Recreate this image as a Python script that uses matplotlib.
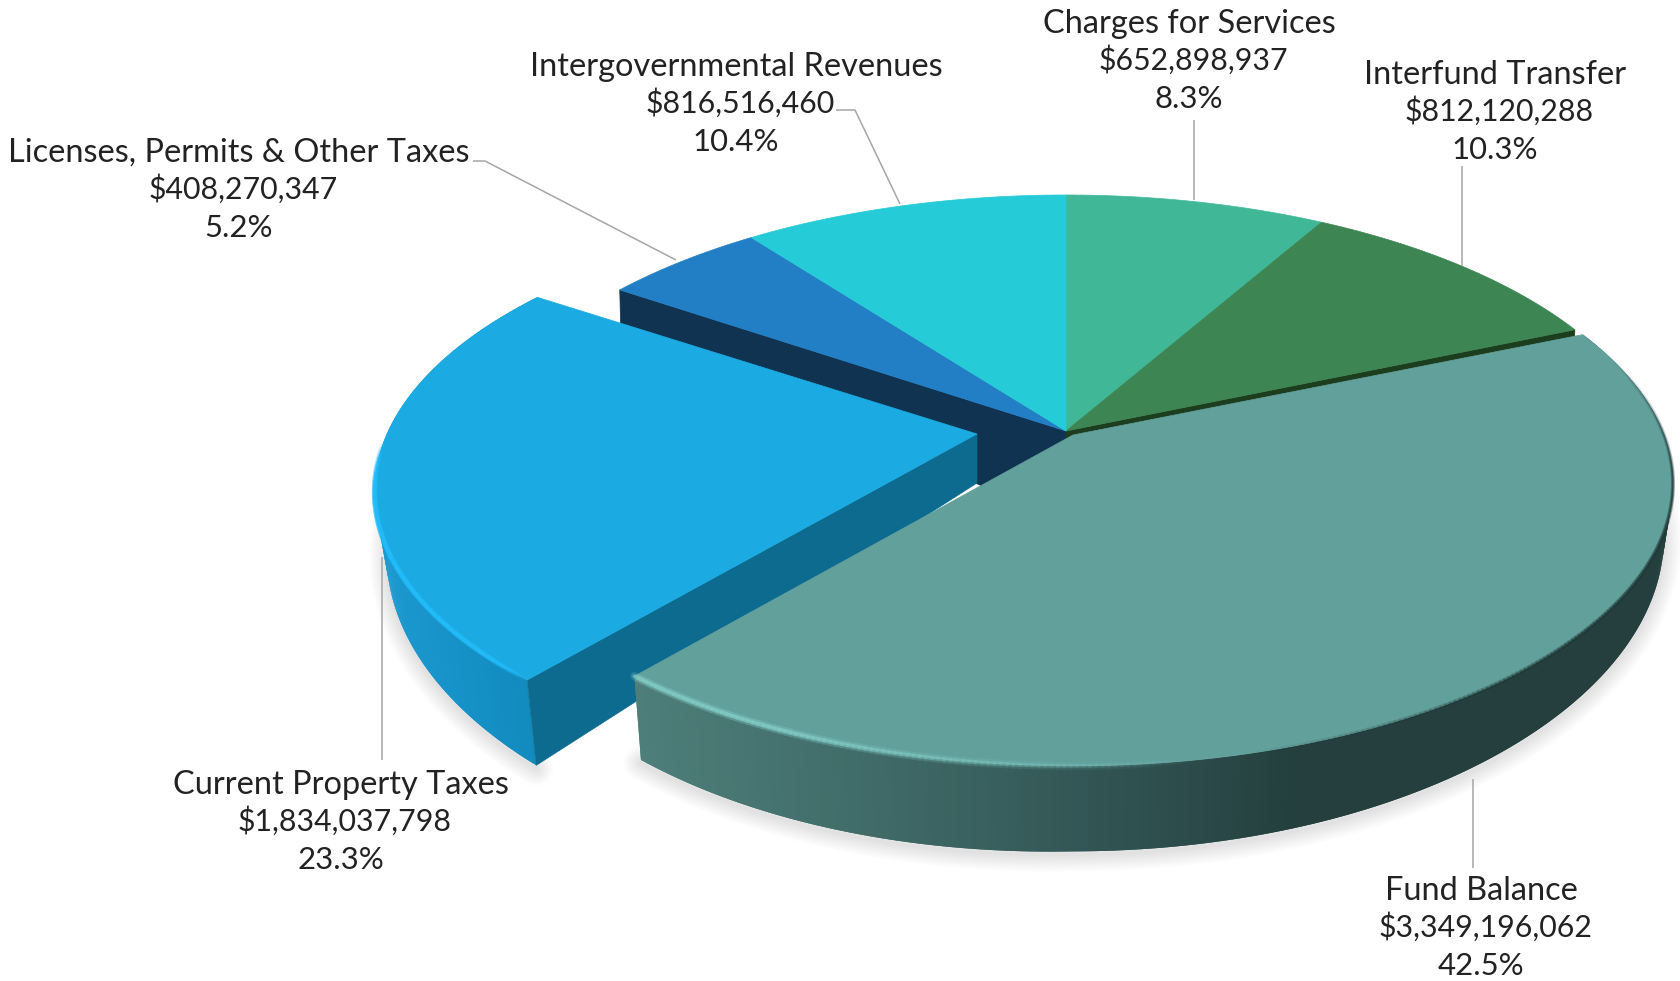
import numpy as np
import matplotlib
matplotlib.use("Agg")
import matplotlib.pyplot as plt
from matplotlib.collections import PolyCollection, LineCollection
from matplotlib.colors import to_rgb

# ---- data (clockwise from 12 o'clock) ----
categories = ["Charges for Services", "Interfund Transfer", "Fund Balance",
              "Current Property Taxes", "Licenses, Permits & Other Taxes",
              "Intergovernmental Revenues"]
values = [652898937, 812120288, 3349196062, 1834037798, 408270347, 816516460]
top_colors = ["#40B898", "#3D8552", "#62A09C", "#1BABE2", "#237FC5", "#25CBD6"]

# ---- layout / style ----
label_pos = [(1189, 59), (1495, 110), (1481, 926), (341, 820), (239, 188), (736, 102)]
leaders = [[(1194, 120), (1194, 200)],
           [(1462, 166), (1462, 266)],
           [(1473, 779), (1473, 868)],
           [(382, 557), (382, 760)],
           [(473, 161), (485, 161), (676, 260)],
           [(836, 110), (855, 110), (900, 204)]]
BACK = dict(apex=(1066.0, 431.0), R=590.0, S=276.6, k=0.172, tilt=0.0, inset=0.998)
FUND = dict(apex=(1073.0, 435.0), R=591.0, S=274.0, k=0.172, tilt=15.0, inset=0.985)
PROP = dict(apex=(977.0, 434.0), R=590.0, S=272.0, k=0.202, tilt=8.0, inset=0.98)
DEPTH = 48.5

fund_stops_x = [640, 800, 1000, 1180, 1300, 1700]
fund_stops_c = ["#4E7E79", "#44716D", "#385F5D", "#2C4C4B", "#243F3D", "#243F3D"]
prop_stops_x = [370, 450, 545]
prop_stops_c = ["#1B9AD0", "#1792C8", "#1089BB"]

fig = plt.figure(figsize=(16.8, 9.81), dpi=100)
ax = fig.add_axes([0, 0, 1, 1])
ax.set_xlim(0, 1680)
ax.set_ylim(981, 0)
ax.axis("off")

total = sum(values)
edges = np.concatenate([[0], np.cumsum(values) / total])


def top(f, g):
    f = np.asarray(f, float)
    th = 2 * np.pi * f
    u, v = np.sin(th), -np.cos(th)
    w = 1 - g["k"] * v
    return g["apex"][0] + g["R"] * u / w, g["apex"][1] + g["S"] * v / w, w


def bottom(f, g):
    x, y, w = top(f, g)
    u = np.sin(2 * np.pi * np.asarray(f, float))
    d = DEPTH / w ** 3 + g["tilt"] * np.clip(-u, 0, 1)
    return g["apex"][0] + (x - g["apex"][0]) * g["inset"], y + d


def face(i, g, z):
    f = np.linspace(edges[i], edges[i + 1], 200)
    x, y, _ = top(f, g)
    ax.fill(np.r_[g["apex"][0], x], np.r_[g["apex"][1], y], fc=top_colors[i],
            ec=top_colors[i], lw=0.5, zorder=z)


def grad(xs, sx, sc):
    rgb = np.array([to_rgb(c) for c in sc])
    return np.c_[[np.interp(xs, sx, rgb[:, j]) for j in range(3)]].T


def outer_wall(i, g, sx, sc, z):
    f = np.linspace(edges[i], edges[i + 1], 260)
    xt, yt, _ = top(f, g)
    xb, yb = bottom(f, g)
    n = len(f) - 1
    quads = [[(xt[j], yt[j]), (xt[min(j + 2, n)], yt[min(j + 2, n)]),
              (xb[min(j + 2, n)], yb[min(j + 2, n)]), (xb[j], yb[j])]
             for j in range(n)]
    cols = grad((xt[:-1] + xt[1:]) / 2, sx, sc)
    ax.add_collection(PolyCollection(quads, facecolors=cols, edgecolors="none", zorder=z))


def radial_wall(frac, g, color, z, apex_depth=49.0):
    x, y, _ = top(frac, g)
    xb, yb = bottom(frac, g)
    ax.fill([g["apex"][0], x, xb, g["apex"][0]],
            [g["apex"][1], y, yb, g["apex"][1] + apex_depth], fc=color, ec=color, lw=0.5, zorder=z)


def soft_shadow(i, g, z, f0=None, f1=None):
    f = np.linspace(f0 if f0 else edges[i], f1 if f1 else edges[i + 1], 200)
    x, y = bottom(f, g)
    for lw in np.arange(2, 26, 2.5):
        ax.plot(x, y + 3, color="k", lw=lw, alpha=0.012, solid_capstyle="round", zorder=z)


def rim(i, g, color, alpha_fn, widths, z):
    f = np.linspace(edges[i], edges[i + 1], 300)
    x, y, _ = top(f, g)
    pts = np.c_[x, y]
    segs = np.stack([pts[:-1], pts[1:]], axis=1)
    fm = (f[:-1] + f[1:]) / 2
    c = np.array(to_rgb(color))
    for lw, a in widths:
        rgba = np.c_[np.tile(c, (len(fm), 1)), alpha_fn(fm) * a]
        ax.add_collection(LineCollection(segs, colors=rgba, linewidths=lw, capstyle="round", zorder=z))


# shadows
soft_shadow(2, FUND, 1)
soft_shadow(3, PROP, 1, edges[3], 0.74)

# back slices and their dark cut faces
radial_wall(edges[4], BACK, "#0F3350", 2, apex_depth=92.0)   # licenses cut face
radial_wall(edges[2], BACK, "#1D3D1F", 2)                    # interfund cut face
for i in (0, 1, 4, 5):
    face(i, BACK, 3)

# property slice
outer_wall(3, PROP, prop_stops_x, prop_stops_c, 4)
radial_wall(edges[3], PROP, "#0E6B90", 5)
face(3, PROP, 6)
rim(3, PROP, "#22BCFA",
    lambda f: np.clip((f - edges[3]) / 0.015, 0, 1) * np.clip((0.745 - f) / 0.03, 0, 1),
    [(4.0, 0.35), (2.2, 0.8)], 7)

# fund balance slice
outer_wall(2, FUND, fund_stops_x, fund_stops_c, 8)
face(2, FUND, 9)
rim(2, FUND, "#84CFC8",
    lambda f: np.clip((f - 0.47) / 0.10, 0, 1),
    [(6.0, 0.2), (3.0, 0.55)], 10)
rim(2, FUND, "#1E3533",
    lambda f: np.clip((0.46 - f) / 0.10, 0, 1) * np.clip((f - edges[2] - 0.02) / 0.08, 0, 1),
    [(3.0, 0.25), (1.5, 0.4)], 10)

# leader lines
for pts in leaders:
    xs, ys = zip(*pts)
    ax.plot(xs, ys, color="#A6A6A6", lw=1.1, zorder=11, solid_capstyle="butt")

# labels: name, amount and share on separate baselines
for name, v, (x, y) in zip(categories, values, label_pos):
    kw = dict(ha="center", va="baseline", family="Lato", color="#222222", zorder=12)
    ax.text(x, y - 26, name, fontsize=23.4, **kw)
    ax.text(x + 4, y + 11, f"${v:,}", fontsize=21.8, **kw)
    ax.text(x, y + 49, f"{100 * v / total:.1f}%", fontsize=22.4, **kw)

fig.savefig("out.png", dpi=100, facecolor="white")
